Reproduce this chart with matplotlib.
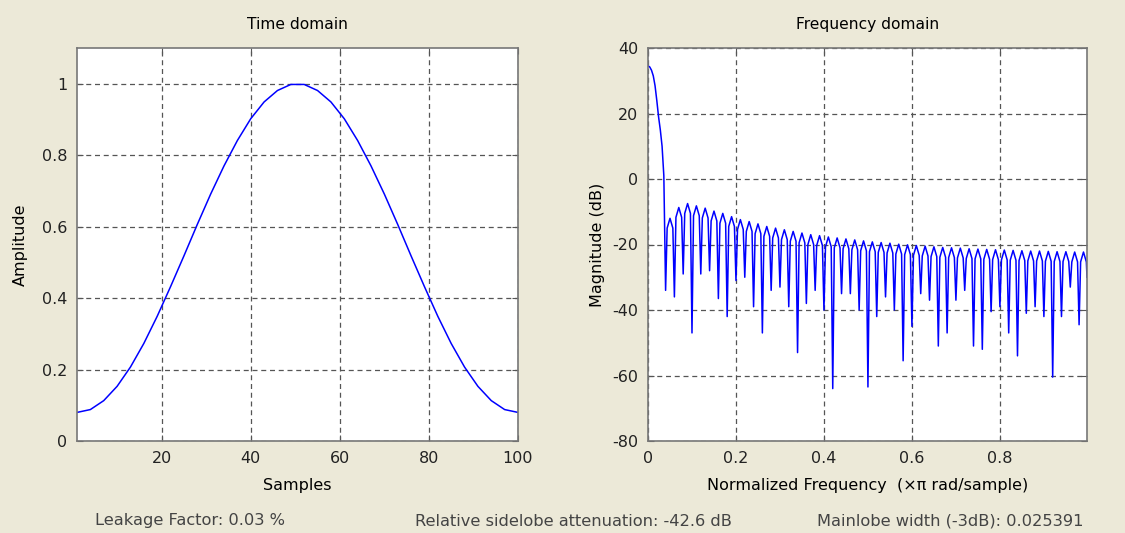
import numpy as np
import matplotlib
matplotlib.use('Agg')
import matplotlib.pyplot as plt

'''
data read off the picture
'''

# time domain (window samples)
samples = [1, 4, 7, 10, 13, 16, 19, 22, 25, 28, 31, 34, 37, 40, 43, 46, 49,
           52, 55, 58, 61, 64, 67, 70, 73, 76, 79, 82, 85, 88, 91, 94, 97, 100]
amplitude = [0.080, 0.088, 0.113, 0.153, 0.207, 0.273, 0.349, 0.432, 0.518, 0.606, 0.691,
             0.770, 0.841, 0.902, 0.949, 0.981, 0.998, 0.998, 0.981, 0.949, 0.902, 0.841,
             0.770, 0.691, 0.606, 0.518, 0.432, 0.349, 0.273, 0.207, 0.153, 0.113, 0.088, 0.080]

# frequency domain: main lobe
main_freq = [0.0, 0.004, 0.008, 0.012, 0.016, 0.020, 0.024, 0.028, 0.032, 0.036]
main_mag = [34.6, 34.2, 33.2, 31.5, 28.5, 24.0, 19.0, 15.0, 10.0, 1.0]

# sidelobe nulls (0.04 .. 0.98), peaks (0.05 .. 0.99) and lobe shoulders
null_freq = [0.04, 0.06, 0.08, 0.10, 0.12, 0.14, 0.16, 0.18, 0.20, 0.22, 0.24, 0.26,
             0.28, 0.30, 0.32, 0.34, 0.36, 0.38, 0.40, 0.42, 0.44, 0.46, 0.48, 0.50,
             0.52, 0.54, 0.56, 0.58, 0.60, 0.62, 0.64, 0.66, 0.68, 0.70, 0.72, 0.74,
             0.76, 0.78, 0.80, 0.82, 0.84, 0.86, 0.88, 0.90, 0.92, 0.94, 0.96, 0.98]
null_mag = [-34, -36, -29, -47, -29, -28, -36.5, -42, -31, -30, -39, -47,
            -34, -33, -39, -53, -38, -34, -40, -64, -35, -35, -40, -63.5,
            -42, -36, -40, -55.5, -45, -35, -37, -51, -47, -37, -34, -51,
            -52, -40.5, -39, -47, -54, -41, -39, -42, -60.5, -42, -33, -44.5]
peak_freq = [0.05, 0.07, 0.09, 0.11, 0.13, 0.15, 0.17, 0.19, 0.21, 0.23, 0.25, 0.27,
             0.29, 0.31, 0.33, 0.35, 0.37, 0.39, 0.41, 0.43, 0.45, 0.47, 0.49, 0.51,
             0.53, 0.55, 0.57, 0.59, 0.61, 0.63, 0.65, 0.67, 0.69, 0.71, 0.73, 0.75,
             0.77, 0.79, 0.81, 0.83, 0.85, 0.87, 0.89, 0.91, 0.93, 0.95, 0.97, 0.99]
peak_mag = [-12, -8.7, -7.5, -8.2, -8.9, -9.8, -10.5, -11.5, -12.4, -13, -13.7, -14.5,
            -15, -15.5, -16, -16.5, -17, -17.3, -17.7, -18, -18.3, -18.6, -18.9, -19.2,
            -19.4, -19.6, -19.9, -20.1, -20.3, -20.5, -20.7, -20.9, -21, -21.1, -21.3, -21.4,
            -21.5, -21.6, -21.7, -21.8, -21.9, -22, -22, -22.1, -22.2, -22.2, -22.3, -22.3]
shoulder_mag = [-15, -11.7, -10.5, -11.2, -11.9, -12.8, -13.5, -14.5, -15.4, -16, -16.7, -17.5,
                -18, -18.5, -19, -19.5, -20, -20.3, -20.7, -21, -21.3, -21.6, -21.9, -22.2,
                -22.4, -22.6, -22.9, -23.1, -23.3, -23.5, -23.7, -23.9, -24, -24.1, -24.3, -24.4,
                -24.5, -24.6, -24.7, -24.8, -24.9, -25, -25, -25.1, -25.2, -25.2, -25.3, -25.3]
end_freq = [0.998]
end_mag = [-30]

shoulder_gap = 0.0035  # distance of lobe shoulders from the nulls

# build one trace: null, shoulder, peak, shoulder, next null ...
freq = list(main_freq)
mag = list(main_mag)
for nf, nm, pf, pm, sm in zip(null_freq, null_mag, peak_freq, peak_mag, shoulder_mag):
    freq += [nf, nf + shoulder_gap, pf, 2 * pf - nf - shoulder_gap]
    mag += [nm, sm, pm, sm]
freq += end_freq
mag += end_mag

'''
figure
'''

bg = '#ECE9D8'
plt.rcParams['font.family'] = ['DejaVu Sans']
plt.rcParams['axes.unicode_minus'] = False  # plain hyphen minus like the original

fig = plt.figure(figsize=(11.25, 5.33), dpi=100, facecolor=bg)
ax0 = fig.add_axes([77/1125, 1-441/533, (518-77)/1125, (441-48)/533])
ax1 = fig.add_axes([648/1125, 1-441/533, (1087-648)/1125, (441-48)/533])

for ax in (ax0, ax1):
    ax.set_facecolor('white')
    ax.grid(True, linestyle=(0, (4, 3)), color='#555555', linewidth=0.9)
    ax.set_axisbelow(True)
    ax.tick_params(direction='in', top=True, right=True, length=4, color='#555555',
                   labelsize=11.5, labelcolor='#222222', pad=7)
    for s in ax.spines.values():
        s.set_color('#777777')
        s.set_linewidth(1.2)

ax0.plot(samples, amplitude, color='#0000ff', linewidth=1.1)
ax0.set_xlim(1, 100)
ax0.set_ylim(0, 1.1)
ax0.set_xticks([20, 40, 60, 80, 100])
ax0.set_yticks([0, 0.2, 0.4, 0.6, 0.8, 1])
ax0.set_yticklabels(['0', '0.2', '0.4', '0.6', '0.8', '1'])
ax0.set_title('Time domain', fontsize=11.2, pad=14)
ax0.set_xlabel('Samples', fontsize=11.5, labelpad=9)
ax0.set_ylabel('Amplitude', fontsize=11.5, labelpad=10)

ax1.plot(freq, mag, color='#0000ff', linewidth=1.1)
ax1.set_xlim(0, 0.998)
ax1.set_ylim(-80, 40)
ax1.set_xticks([0, 0.2, 0.4, 0.6, 0.8])
ax1.set_xticklabels(['0', '0.2', '0.4', '0.6', '0.8'])
ax1.set_yticks([-80, -60, -40, -20, 0, 20, 40])
ax1.set_title('Frequency domain', fontsize=11.2, pad=14)
ax1.set_xlabel('Normalized Frequency  (\u00d7\u03c0 rad/sample)', fontsize=11.5, labelpad=9)
ax1.set_ylabel('Magnitude (dB)', fontsize=11.5, labelpad=5)

# summary line at the bottom
fig.text(190/1125, 1-521/533, 'Leakage Factor: 0.03 %', ha='center', va='center',
         fontsize=11.7, color='#444444')
fig.text(573/1125, 1-521/533, 'Relative sidelobe attenuation: -42.6 dB', ha='center',
         va='center', fontsize=11.7, color='#444444')
fig.text(950/1125, 1-521/533, 'Mainlobe width (-3dB): 0.025391', ha='center',
         va='center', fontsize=11.7, color='#444444')

fig.savefig('out.png', dpi=100, facecolor=bg)
